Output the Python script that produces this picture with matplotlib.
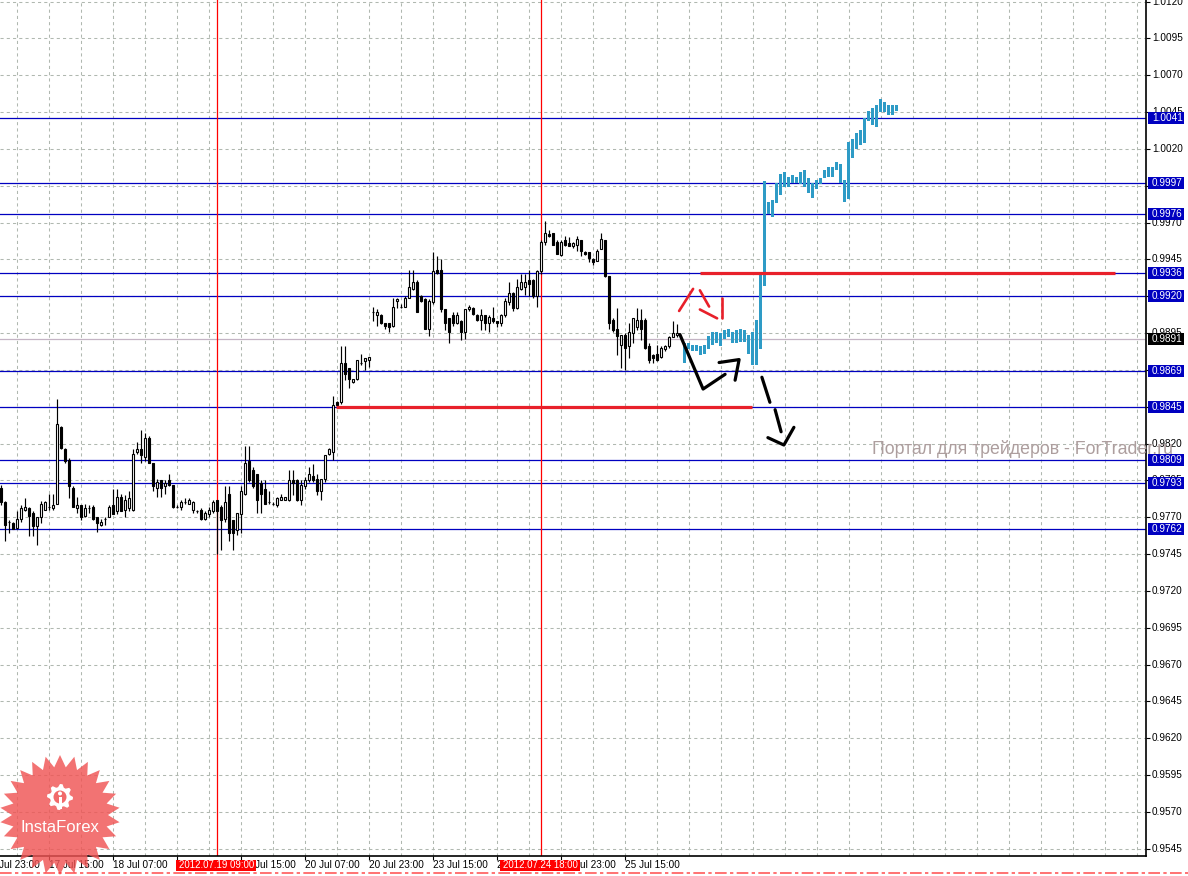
import numpy as np
import matplotlib

matplotlib.use("Agg")
import matplotlib.pyplot as plt
from matplotlib.patches import Rectangle, Polygon, Circle
from matplotlib.transforms import blended_transform_factory

plt.rcParams["font.family"] = ["Liberation Sans", "DejaVu Sans"]

# ---- H1 candles, 16 Jul 2012 19:00 .. 25 Jul 2012 ----
opens = [
    .9790, .9780, .9767, .9766, .9763, .9769, .9775, .9776, .9773, .9764,
    .9770, .9775, .9777, .9776, .9779, .9831, .9816, .9809, .9790, .9776,
    .9778, .9771, .9776, .9777, .9770, .9765, .9769, .9770, .9778, .9774,
    .9784, .9775, .9776, .9775, .9814, .9816, .9811, .9824, .9807, .9790,
    .9795, .9791, .9795, .9792, .9777, .9777, .9780, .9779, .9775, .9774,
    .9775, .9769, .9772, .9774, .9782, .9777, .9769, .9786, .9768, .9761,
    .9772, .9786, .9808, .9802, .9799, .9793, .9789, .9780, .9779, .9778,
    .9782, .9782, .9782, .9795, .9795, .9782, .9791, .9795, .9798, .9796,
    .9788, .9796, .9813, .9814, .9848, .9848, .9875, .9871, .9862, .9864,
    .9875, .9876, .9877, .9909, .9907, .9907, .9902, .9902, .9900, .9917,
    .9913, .9913, .9919, .9925, .9930, .9920, .9918, .9898, .9916, .9938,
    .9938, .9911, .9905, .9907, .9902, .9903, .9896, .9911, .9912, .9907,
    .9904, .9907, .9902, .9905, .9903, .9902, .9907, .9916, .9922, .9912,
    .9925, .9926, .9931, .9931, .9920, .9937, .9957, .9962, .9963, .9957,
    .9948, .9958, .9956, .9954, .9955, .9958, .9950, .9950, .9945, .9944,
    .9952, .9958, .9934, .9904, .9898, .9887, .9894, .9886, .9895, .9899,
    .9904, .9904, .9886, .9880, .9881, .9879, .9884, .9886, .9892, .9894,
]
highs = [
    .9792, .9781, .9768, .9767, .9774, .9778, .9783, .9777, .9774, .9770,
    .9781, .9781, .9786, .9786, .9850, .9832, .9817, .9810, .9791, .9784,
    .9778, .9779, .9778, .9778, .9770, .9769, .9770, .9778, .9789, .9789,
    .9786, .9785, .9788, .9816, .9821, .9829, .9827, .9825, .9807, .9796,
    .9795, .9795, .9799, .9792, .9778, .9782, .9783, .9783, .9781, .9775,
    .9776, .9774, .9777, .9782, .9782, .9778, .9791, .9791, .9768, .9773,
    .9791, .9818, .9818, .9804, .9799, .9795, .9795, .9788, .9780, .9784,
    .9786, .9784, .9802, .9802, .9796, .9795, .9797, .9804, .9806, .9799,
    .9796, .9812, .9817, .9852, .9849, .9886, .9886, .9871, .9864, .9877,
    .9881, .9878, .9879, .9913, .9911, .9908, .9902, .9902, .9919, .9919,
    .9915, .9920, .9938, .9938, .9931, .9921, .9919, .9918, .9950, .9947,
    .9945, .9911, .9905, .9909, .9909, .9904, .9911, .9914, .9913, .9908,
    .9911, .9907, .9907, .9913, .9903, .9908, .9919, .9930, .9923, .9932,
    .9935, .9935, .9938, .9932, .9938, .9958, .9971, .9965, .9963, .9958,
    .9958, .9961, .9960, .9957, .9961, .9958, .9951, .9950, .9946, .9952,
    .9963, .9958, .9934, .9905, .9912, .9894, .9895, .9902, .9905, .9912,
    .9911, .9905, .9888, .9881, .9887, .9886, .9887, .9893, .9903, .9901,
]
lows = [
    .9778, .9754, .9759, .9762, .9762, .9767, .9774, .9757, .9757, .9751,
    .9766, .9775, .9775, .9775, .9779, .9816, .9807, .9783, .9777, .9773,
    .9768, .9770, .9773, .9768, .9760, .9764, .9765, .9770, .9772, .9772,
    .9774, .9770, .9774, .9774, .9813, .9807, .9808, .9807, .9788, .9784,
    .9784, .9786, .9791, .9776, .9776, .9775, .9779, .9779, .9773, .9773,
    .9768, .9768, .9770, .9773, .9745, .9748, .9767, .9754, .9748, .9758,
    .9759, .9785, .9794, .9790, .9773, .9773, .9779, .9779, .9778, .9777,
    .9782, .9782, .9781, .9785, .9781, .9778, .9789, .9794, .9794, .9785,
    .9782, .9794, .9812, .9809, .9845, .9847, .9863, .9858, .9861, .9863,
    .9873, .9870, .9872, .9903, .9900, .9901, .9898, .9896, .9899, .9912,
    .9912, .9913, .9919, .9924, .9909, .9916, .9898, .9893, .9915, .9935,
    .9909, .9897, .9888, .9900, .9901, .9890, .9891, .9910, .9907, .9903,
    .9897, .9897, .9896, .9902, .9899, .9900, .9906, .9914, .9910, .9911,
    .9924, .9921, .9920, .9919, .9913, .9935, .9955, .9960, .9955, .9949,
    .9947, .9954, .9954, .9953, .9951, .9947, .9948, .9943, .9941, .9944,
    .9952, .9933, .9898, .9896, .9880, .9871, .9870, .9878, .9888, .9897,
    .9890, .9884, .9875, .9875, .9876, .9878, .9883, .9885, .9892, .9892,
]
closes = [
    .9780, .9765, .9767, .9762, .9769, .9776, .9777, .9771, .9764, .9770,
    .9779, .9780, .9777, .9778, .9833, .9817, .9808, .9791, .9777, .9778,
    .9770, .9776, .9776, .9769, .9766, .9767, .9769, .9777, .9772, .9784,
    .9774, .9782, .9783, .9813, .9816, .9812, .9824, .9807, .9791, .9794,
    .9790, .9793, .9792, .9777, .9777, .9780, .9780, .9782, .9780, .9774,
    .9769, .9773, .9775, .9780, .9774, .9768, .9780, .9759, .9759, .9773,
    .9788, .9807, .9795, .9791, .9782, .9786, .9779, .9780, .9779, .9783,
    .9784, .9784, .9795, .9793, .9782, .9792, .9795, .9799, .9795, .9788,
    .9796, .9812, .9816, .9846, .9846, .9875, .9867, .9864, .9864, .9877,
    .9875, .9878, .9879, .9909, .9909, .9902, .9900, .9899, .9913, .9918,
    .9913, .9919, .9926, .9930, .9909, .9917, .9898, .9917, .9937, .9936,
    .9911, .9902, .9896, .9902, .9907, .9896, .9911, .9913, .9908, .9904,
    .9907, .9902, .9906, .9903, .9902, .9907, .9917, .9922, .9912, .9926,
    .9930, .9930, .9928, .9920, .9937, .9957, .9963, .9961, .9955, .9949,
    .9957, .9955, .9954, .9956, .9959, .9951, .9949, .9946, .9943, .9951,
    .9959, .9934, .9902, .9897, .9893, .9894, .9885, .9896, .9905, .9904,
    .9898, .9885, .9877, .9878, .9877, .9885, .9886, .9892, .9895, .9895,
]

# ---- later price path pasted over the chart (teal bars, low..high) ----
teal_start = 171
teal_high = [
    .9888, .9888, .9887, .9887, .9886, .9887, .9893, .9896, .9896, .9895,
    .9897, .9898, .9896, .9897, .9898, .9897, .9894, .9896, .9904, .9936,
    .9998, .9984, .9985, .9997, 1.0003, 1.0004, 1.0001, 1.0002, 1.0001, 1.0004,
    1.0006, 1.0000, .9997, .9999, 1.0000, 1.0006, 1.0008, 1.0008, 1.0011, 1.0010,
    .9999, 1.0025, 1.0027, 1.0031, 1.0033, 1.0041, 1.0046, 1.0048, 1.0050, 1.0054,
    1.0052, 1.0050, 1.0050, 1.0050,
]
teal_low = [
    .9875, .9884, .9883, .9883, .9880, .9881, .9884, .9887, .9888, .9886,
    .9891, .9892, .9888, .9888, .9889, .9889, .9881, .9873, .9873, .9884,
    .9927, .9976, .9974, .9983, .9989, .9994, .9994, .9997, .9997, .9996,
    .9994, .9990, .9987, .9993, .9996, 1.0000, 1.0001, 1.0001, 1.0006, .9997,
    .9984, .9986, 1.0014, 1.0020, 1.0023, 1.0024, 1.0039, 1.0036, 1.0035, 1.0045,
    1.0045, 1.0043, 1.0043, 1.0046,
]

# ---- drawn objects ----
level_prices = [1.0041, 0.9997, 0.9976, 0.9936, 0.9920, 0.9869, 0.9845, 0.9809, 0.9793, 0.9762]
bid_price = 0.9891
vline_bars = [54, 135]
vline_labels = ["2012.07.19 09:00", "2012.07.24 18:00"]
red_seg_price = [0.9845, 0.9936]
red_seg_from = [83.8, 174.8]
red_seg_to = [187.8, 278.6]

red_strokes = [
    [(169.6, 0.9910), (173.1, 0.9925)],
    [(174.8, 0.9924), (177.1, 0.9913)],
    [(174.8, 0.9911), (179.1, 0.9905)],
    [(180.3, 0.9919), (180.3, 0.9905)],
]
black_strokes = [
    [(169.8, 0.9894), (175.6, 0.9857), (181.1, 0.9867)],
    [(179.6, 0.9875), (184.6, 0.9877), (183.6, 0.9863)],
    [(190.3, 0.9865), (192.3, 0.9848)],
    [(193.6, 0.9843), (195.1, 0.9828)],
    [(191.8, 0.9824), (195.8, 0.9819), (198.3, 0.9831)],
]

time_bars = [-4, 12, 28, 44, 60, 76, 92, 108, 124, 140, 156]
time_labels = ["16 Jul 23:00", "17 Jul 15:00", "18 Jul 07:00", "18 Jul 23:00",
               "19 Jul 15:00", "20 Jul 07:00", "20 Jul 23:00", "23 Jul 15:00",
               "24 Jul 07:00", "24 Jul 23:00", "25 Jul 15:00"]
price_ticks = [round(0.9545 + 0.0025 * k, 4) for k in range(24)]

# ---- layout (pixels) ----
W, H = 1188, 876
PW, PH = 1146, 856
BAR_PX = 4.0
X0 = -0.175
Y_TOP, Y_BOT = 1.01211, 0.95400
PX_PRICE = (Y_TOP - Y_BOT) / PH

GRID = "#b0b8b0"
BLUE = "#0000c0"
RED = "#ff0000"
TEAL = "#2e9bc6"
FS = 7.2

fig = plt.figure(figsize=(W / 100, H / 100), dpi=100)
ax = fig.add_axes([0, (H - PH) / H, PW / W, PH / H])
ax.set_xlim(X0, X0 + PW / BAR_PX)
ax.set_ylim(Y_BOT, Y_TOP)
for s in ("top", "left"):
    ax.spines[s].set_visible(False)
for s in ("right", "bottom"):
    ax.spines[s].set_linewidth(1.2)

ax.set_xticks([b for b in time_bars if b >= 0])
ax.set_xticks(np.arange(4, 287, 8), minor=True)
ax.set_yticks(price_ticks)
ax.yaxis.tick_right()
ax.tick_params(axis="x", which="major", length=3, width=0.8, labelbottom=False)
ax.tick_params(axis="x", which="minor", length=0)
ax.tick_params(axis="y", length=3, width=0.8, labelright=False)
ax.set_axisbelow(True)
grid_kw = dict(color=GRID, lw=0.75, ls=(0, (3, 3)))
ax.grid(True, axis="x", which="both", **grid_kw)
ax.grid(True, axis="y", which="major", **grid_kw)

# levels
for p in level_prices:
    ax.axhline(p, color=BLUE, lw=0.9, zorder=1)
ax.axhline(bid_price, color="#c4b4c4", lw=0.9, zorder=1)
for b in vline_bars:
    ax.axvline(b, color=RED, lw=0.9, zorder=1.2)

# candles
o, h, l, c = (np.array(a) for a in (opens, highs, lows, closes))
x = np.arange(len(o))
up = c >= o
ax.vlines(x, l, h, color="black", lw=0.85, zorder=2)
lo = np.minimum(o, c)
ht = np.abs(c - o)
ax.bar(x[up], ht[up], bottom=lo[up], width=0.6, facecolor="white",
       edgecolor="black", lw=0.8, zorder=2.5)
ax.bar(x[~up], ht[~up], bottom=lo[~up], width=0.6, facecolor="black",
       edgecolor="black", lw=0.8, zorder=2.5)

# teal overlay bars
th, tl = np.array(teal_high), np.array(teal_low)
tx = np.arange(len(th)) + teal_start
ax.bar(tx, th - tl, bottom=tl, width=0.8, color=TEAL, lw=0, zorder=3)

# thick red segments and hand-drawn strokes
for p, a, b in zip(red_seg_price, red_seg_from, red_seg_to):
    ax.plot([a, b], [p, p], color="#e8202a", lw=2.3, solid_capstyle="butt", zorder=4)
for st in red_strokes:
    xs, ys = zip(*st)
    ax.plot(xs, ys, color="#e8202a", lw=1.9, solid_capstyle="round", zorder=4)
for st in black_strokes:
    xs, ys = zip(*st)
    ax.plot(xs, ys, color="black", lw=2.3, solid_capstyle="round",
            solid_joinstyle="round", zorder=4)

# right price scale
ty = blended_transform_factory(ax.transAxes, ax.transData)
lab_x = 1152 / PW
for p in price_ticks:
    ax.text(lab_x, p, f"{p:.4f}", transform=ty, fontsize=FS, ha="left",
            va="center", clip_on=False, zorder=5)
box_x, box_w, box_h = 1148 / PW, 36 / PW, 12 * PX_PRICE
for p in level_prices + [bid_price]:
    fc = "black" if p == bid_price else BLUE
    ax.add_patch(Rectangle((box_x, p - box_h / 2), box_w, box_h, transform=ty,
                           facecolor=fc, edgecolor="none", clip_on=False, zorder=6))
    ax.text(lab_x, p, f"{p:.4f}", transform=ty, fontsize=FS, ha="left",
            va="center", color="white", clip_on=False, zorder=7)

# time scale
tx_tr = blended_transform_factory(ax.transData, ax.transAxes)
lab_y = -9 / PH
for b, s in zip(time_bars, time_labels):
    ax.text(b, lab_y, s, transform=tx_tr, fontsize=FS, ha="left", va="center",
            clip_on=False, zorder=5)
for b, s in zip(vline_bars, vline_labels):
    ax.add_patch(Rectangle((b - 10.2, -15 / PH), 20, 11 / PH, transform=tx_tr,
                           facecolor=RED, edgecolor="none", clip_on=False, zorder=6))
    ax.text(b - 0.1, lab_y, s, transform=tx_tr, fontsize=6.9, ha="center",
            va="center", color="white", clip_on=False, zorder=7)

# ---- overlay in pixel space: watermark, logo ----
ov = fig.add_axes([0, 0, 1, 1], zorder=10)
ov.set_xlim(0, W)
ov.set_ylim(H, 0)
ov.axis("off")
ov.patch.set_alpha(0)

ov.text(872, 449, "Портал для трейдеров - ForTrader.ru", fontsize=12.8,
        color="#ad9e9e", ha="left", va="center")
ov.plot([0, W], [873, 873], color="#ff3030", lw=1.2, ls=(0, (7, 2, 2, 2)), alpha=0.8)

cx, cy, n = 60, 815, 26
ang = np.linspace(0, 2 * np.pi, 2 * n, endpoint=False) - np.pi / 2
rad = np.where(np.arange(2 * n) % 2 == 0, 60, 48)
star = np.column_stack([cx + rad * np.cos(ang), cy + rad * np.sin(ang)])
ov.add_patch(Polygon(star, closed=True, facecolor="#f05454", edgecolor="none", alpha=0.82))

gx, gy = 60, 797
gang = np.linspace(0, 2 * np.pi, 32, endpoint=False)
grad = np.where((np.arange(32) // 2) % 2 == 0, 13, 10)
gear = np.column_stack([gx + grad * np.cos(gang), gy + grad * np.sin(gang)])
ov.add_patch(Polygon(gear, closed=True, facecolor="white", edgecolor="none"))
ov.add_patch(Circle((gx, gy), 6.5, facecolor="#f26a6a", edgecolor="none"))
ov.add_patch(Circle((gx, gy - 3.5), 2.0, facecolor="white", edgecolor="none"))
ov.add_patch(Rectangle((gx - 1.5, gy), 3, 12, facecolor="white", edgecolor="none"))
ov.text(cx, 828, "InstaForex", fontsize=12, color="white", ha="center", va="center")

fig.savefig("out.png", dpi=100)
